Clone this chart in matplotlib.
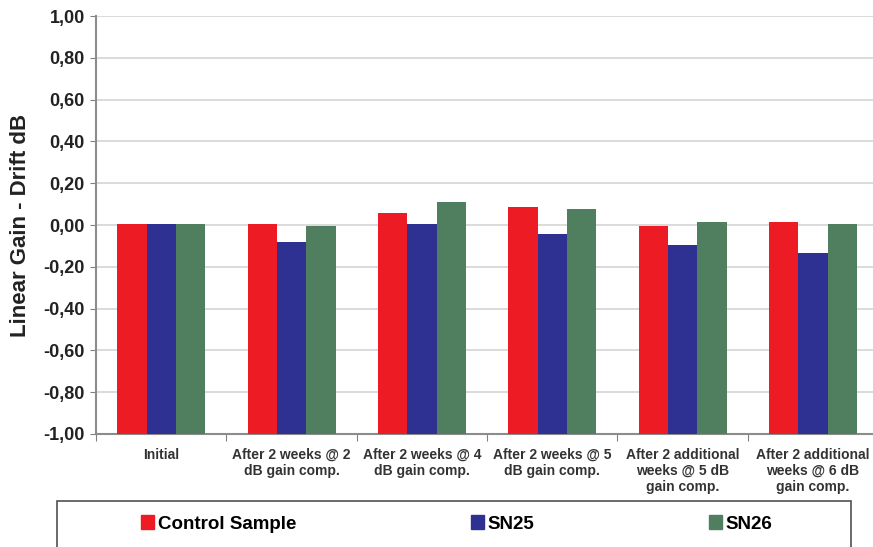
import numpy as np
import matplotlib.pyplot as plt
from matplotlib.patches import Rectangle, Patch
from matplotlib.ticker import FuncFormatter

plt.rcParams['font.family'] = ['Liberation Sans', 'DejaVu Sans']
plt.rcParams['font.weight'] = 'bold'

# stages of the test
stages = ['Initial',
          'After 2 weeks @ 2\ndB gain comp.',
          'After 2 weeks @ 4\ndB gain comp.',
          'After 2 weeks @ 5\ndB gain comp.',
          'After 2 additional\nweeks @ 5 dB\ngain comp.',
          'After 2 additional\nweeks @ 6 dB\ngain comp.']
series_names = ['Control Sample', 'SN25', 'SN26']
# drift in dB per stage
control = [0.005, 0.005, 0.059, 0.085, -0.005, 0.016]
sn25 = [0.005, -0.080, 0.005, -0.045, -0.096, -0.132]
sn26 = [0.005, -0.005, 0.109, 0.075, 0.016, 0.006]
colors = ['#ED1C24', '#2E3192', '#4F7F5F']

fig = plt.figure(figsize=(8.73, 5.47), dpi=100)
ax = fig.add_axes([0.110, 0.2066, 0.8958, 0.7641])

ymin, ymax = -1.0, 1.0
x = np.arange(len(stages))
w = 0.225
# bars rise from the bottom of the value axis
for k, (vals, c) in enumerate(zip([control, sn25, sn26], colors)):
    vals = np.array(vals)
    ax.bar(x + (k - 1) * w, vals - ymin, bottom=ymin, width=w, color=c, zorder=3)

ax.set_xlim(-0.5, len(stages) - 0.5)
ax.set_ylim(ymin, ymax)
ax.set_yticks(np.arange(-1, 1.01, 0.2))
ax.yaxis.set_major_formatter(FuncFormatter(lambda v, p: f'{v:.2f}'.replace('.', ',').replace('-0,00', '0,00')))
ax.grid(axis='y', color='#D4D4D4', lw=1.2, zorder=0)

# boundary ticks between categories, labels in the middle
ax.set_xticks(np.arange(-0.5, len(stages), 1.0))
ax.set_xticklabels([])
ax.set_xticks(x, minor=True)
ax.set_xticklabels(stages, minor=True, fontsize=10, fontweight='bold', color='#333333')
ax.tick_params(axis='x', which='minor', length=0, pad=10)
ax.tick_params(axis='x', which='major', length=5, color='#808080')
ax.tick_params(axis='y', length=4, color='#808080', labelsize=13, labelcolor='#222222', pad=4)

for s in ['top', 'right']:
    ax.spines[s].set_visible(False)
for s in ['left', 'bottom']:
    ax.spines[s].set_color('#8C8C8C')
    ax.spines[s].set_linewidth(1.5)

ax.set_ylabel('Linear Gain - Drift dB', fontsize=16, fontweight='bold', color='#222222')
ax.yaxis.set_label_coords(-0.083, 0.5)

# legend box along the bottom
fig.patches.append(Rectangle((0.0653, -0.05), 0.9095, 0.1341, transform=fig.transFigure,
                             fill=False, edgecolor='#505050', lw=1.2))
handles = [Patch(color=c) for c in colors]
fig.legend(handles, series_names, loc='center', bbox_to_anchor=(0.523, 0.042), ncol=3,
           frameon=False, handlelength=0.7, handleheight=0.7,
           handletextpad=0.2, columnspacing=9.3, prop={'weight': 'bold', 'size': 13.5})

fig.savefig('out.png', dpi=100)
